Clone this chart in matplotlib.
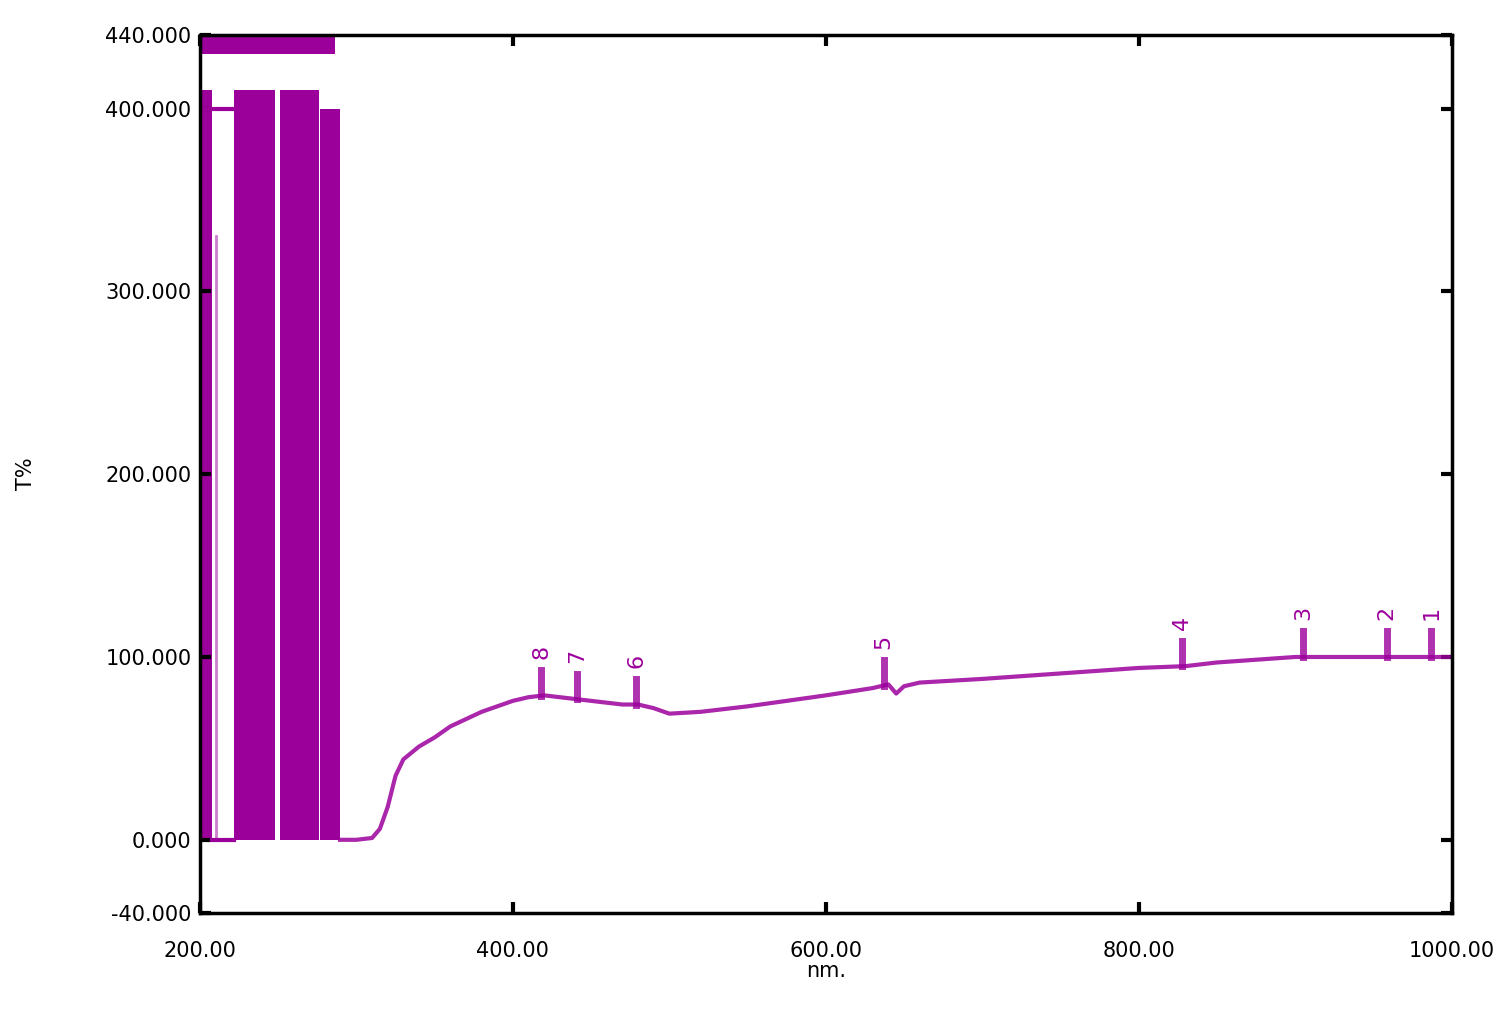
import matplotlib
matplotlib.use("Agg")
import matplotlib.pyplot as plt
import numpy as np

C = "#9b009b"
# noisy saturated blocks (nm start, nm end, low, high)
blk_x0 = [200, 222, 251, 277]
blk_x1 = [207.5, 248, 276, 289.5]
blk_lo = [0, 0, 0, 0]
blk_hi = [410, 410, 410, 400]
# top noise band
band_x = [200, 286]
band_lo = 430
band_hi = 440
# main curve
wl = [289.5, 300, 310, 315, 320, 325, 330, 340, 350, 360, 370, 380, 390, 400, 410, 420,
      430, 440, 450, 460, 470, 480, 490, 500, 520, 550, 600, 630, 640, 645, 650, 660,
      700, 750, 800, 830, 850, 900, 950, 1000]
tr = [0, 0, 1, 6, 18, 35, 44, 51, 56, 62, 66, 70, 73, 76, 78, 79,
      78, 77, 76, 75, 74, 74, 72, 69, 70, 73, 79, 83, 85, 80, 84, 86,
      88, 91, 94, 95, 97, 100, 100, 100]
# labelled peaks
pk_lbl = ["1", "2", "3", "4", "5", "6", "7", "8"]
pk_wl = [987, 958.5, 905, 827.5, 637, 479, 441, 418]

fig = plt.figure(figsize=(15.09, 10.11), dpi=100)
ax = fig.add_axes([0.1325, 0.097, 0.8295, 0.868])
for a, b, lo, hi in zip(blk_x0, blk_x1, blk_lo, blk_hi):
    ax.fill_between([a, b], lo, hi, color=C, lw=0)
ax.fill_between(band_x, band_lo, band_hi, color=C, lw=0)
ax.plot([200, 240], [400, 400], color=C, lw=3)
ax.plot([207.5, 222], [0, 0], color=C, lw=3)
ax.plot([210, 210], [0, 330], color=C, lw=2, alpha=0.5)
ax.plot(wl, tr, color=C, lw=3, alpha=0.85)
for l, w in zip(pk_lbl, pk_wl):
    y = np.interp(w, wl, tr)
    ax.plot([w, w], [y, y + 14], color=C, lw=5, alpha=0.8)
    ax.text(w, y + 20, l, color=C, rotation=90, ha="center", va="bottom", fontsize=16)
ax.set_xlim(200, 1000)
ax.set_ylim(-40, 440)
ax.set_xticks([200, 400, 600, 800, 1000])
ax.set_xticklabels(["200.00", "400.00", "600.00", "800.00", "1000.00"])
ax.set_yticks([-40, 0, 100, 200, 300, 400, 440])
ax.set_yticklabels(["-40.000", "0.000", "100.000", "200.000", "300.000", "400.000", "440.000"])
ax.tick_params(labelsize=15, direction="in", length=8, width=3, top=True, right=True)
ax.tick_params(axis="x", pad=20)
ax.tick_params(axis="y", pad=6)
for s in ax.spines.values():
    s.set_linewidth(2.5)
ax.set_xlabel("nm.", fontsize=15, labelpad=0)
ax.set_ylabel("T%", fontsize=15, labelpad=50)
fig.savefig("out.png", dpi=100)
